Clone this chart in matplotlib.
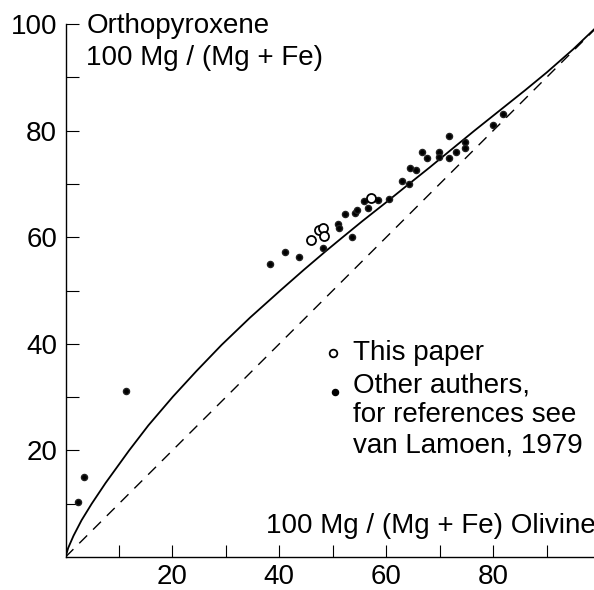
import matplotlib
matplotlib.use("Agg")
import matplotlib.pyplot as plt

# Fitted distribution curve (olivine vs orthopyroxene, 100 Mg/(Mg+Fe))
curve_ol = [0, 0.5, 1.5, 3.0, 4.9, 7.5, 11.9, 15.5, 20.1, 24.5, 29.2, 34.5, 40.4, 44.6,
            48.7, 51.6, 55.5, 59.8, 64.0, 68.0, 72.0, 76.5, 81.0, 86.0, 90.0, 95.0, 99.5]
curve_opx = [0, 1.7, 4.0, 6.9, 10.0, 13.9, 20.0, 24.7, 30.1, 34.9, 39.8, 44.9, 50.2, 53.9,
             57.4, 59.8, 63.0, 66.4, 69.8, 73.0, 76.3, 80.0, 83.6, 87.6, 90.9, 95.3, 99.6]

# 1:1 reference line
equal_ol = [0, 100]
equal_opx = [0, 100]

# This paper (open circles)
this_ol = [45.9, 47.5, 48.1, 48.4, 57.2]
this_opx = [59.5, 61.4, 61.8, 60.3, 67.4]

# Other authors (filled dots)
other_ol = [2.4, 3.4, 11.4, 38.2, 41.1, 43.6, 48.1, 50.9, 51.1, 52.2, 53.5, 54.1,
            54.6, 55.9, 56.5, 58.5, 60.5, 62.9, 64.2, 64.5, 65.6, 66.6, 67.6, 69.8,
            69.8, 71.7, 71.7, 73.0, 74.7, 74.7, 79.9, 81.8]
other_opx = [10.3, 15.1, 31.1, 55.0, 57.3, 56.2, 58.0, 62.4, 61.8, 64.3, 60.0, 64.5,
             65.1, 66.8, 65.4, 67.0, 67.2, 70.6, 70.0, 72.9, 72.7, 75.9, 74.8, 76.0,
             75.1, 79.0, 74.8, 76.0, 77.9, 76.7, 81.0, 83.1]

tick_values = [10, 20, 30, 40, 50, 60, 70, 80, 90]
x_tick_labels = ["", "20", "", "40", "", "60", "", "80", ""]
y_tick_values = [10, 20, 30, 40, 50, 60, 70, 80, 90, 100]
y_tick_labels = ["", "20", "", "40", "", "60", "", "80", "", "100"]

plt.rcParams.update({
    "font.family": "Liberation Sans",
    "font.size": 20,
})

fig = plt.figure(figsize=(5.94, 5.90), dpi=100)
ax = fig.add_axes([0.1103, 0.0559, 0.9, 0.9034])

ax.plot(equal_ol, equal_opx, color="black", lw=1.0, dashes=(8, 6))
ax.plot(curve_ol, curve_opx, color="black", lw=1.3)

ax.plot(other_ol, other_opx, "o", color="black", ms=4.4, mec="#222222",
        linestyle="none", clip_on=False)
ax.plot(this_ol, this_opx, "o", mfc="white", mec="black", mew=1.3, ms=6.5,
        linestyle="none")

ax.set_xlim(0, 100)
ax.set_ylim(0, 100)

ax.set_xticks(tick_values)
ax.set_xticklabels(x_tick_labels)
ax.set_yticks(y_tick_values)
ax.set_yticklabels(y_tick_labels)
ax.tick_params(direction="in", length=9, width=0.8, labelsize=20)
ax.tick_params(axis="x", pad=5)
ax.tick_params(axis="y", pad=6)

for side in ["top", "right"]:
    ax.spines[side].set_visible(False)
for side in ["left", "bottom"]:
    ax.spines[side].set_linewidth(1.0)

# axis titles written inside the frame
ax.text(3.9, 98.3, "Orthopyroxene", ha="left", va="baseline", fontsize=20)
ax.text(3.9, 92.4, "100 Mg / (Mg + Fe)", ha="left", va="baseline", fontsize=20)
ax.text(99.1, 4.5, "100 Mg / (Mg + Fe) Olivine", ha="right", va="baseline",
        fontsize=20)

# legend drawn by hand
ax.plot([50.0], [38.3], "o", mfc="white", mec="black", mew=1.3, ms=5.5)
ax.text(53.8, 37.0, "This paper", ha="left", va="baseline", fontsize=20)
ax.plot([50.4], [31.0], "o", color="black", ms=4.4)
ax.text(53.8, 30.8, "Other authers,", ha="left", va="baseline", fontsize=20)
ax.text(53.8, 25.3, "for references see", ha="left", va="baseline", fontsize=20)
ax.text(53.8, 19.7, "van Lamoen, 1979", ha="left", va="baseline", fontsize=20)

fig.savefig("out.png", dpi=100, facecolor="white")
